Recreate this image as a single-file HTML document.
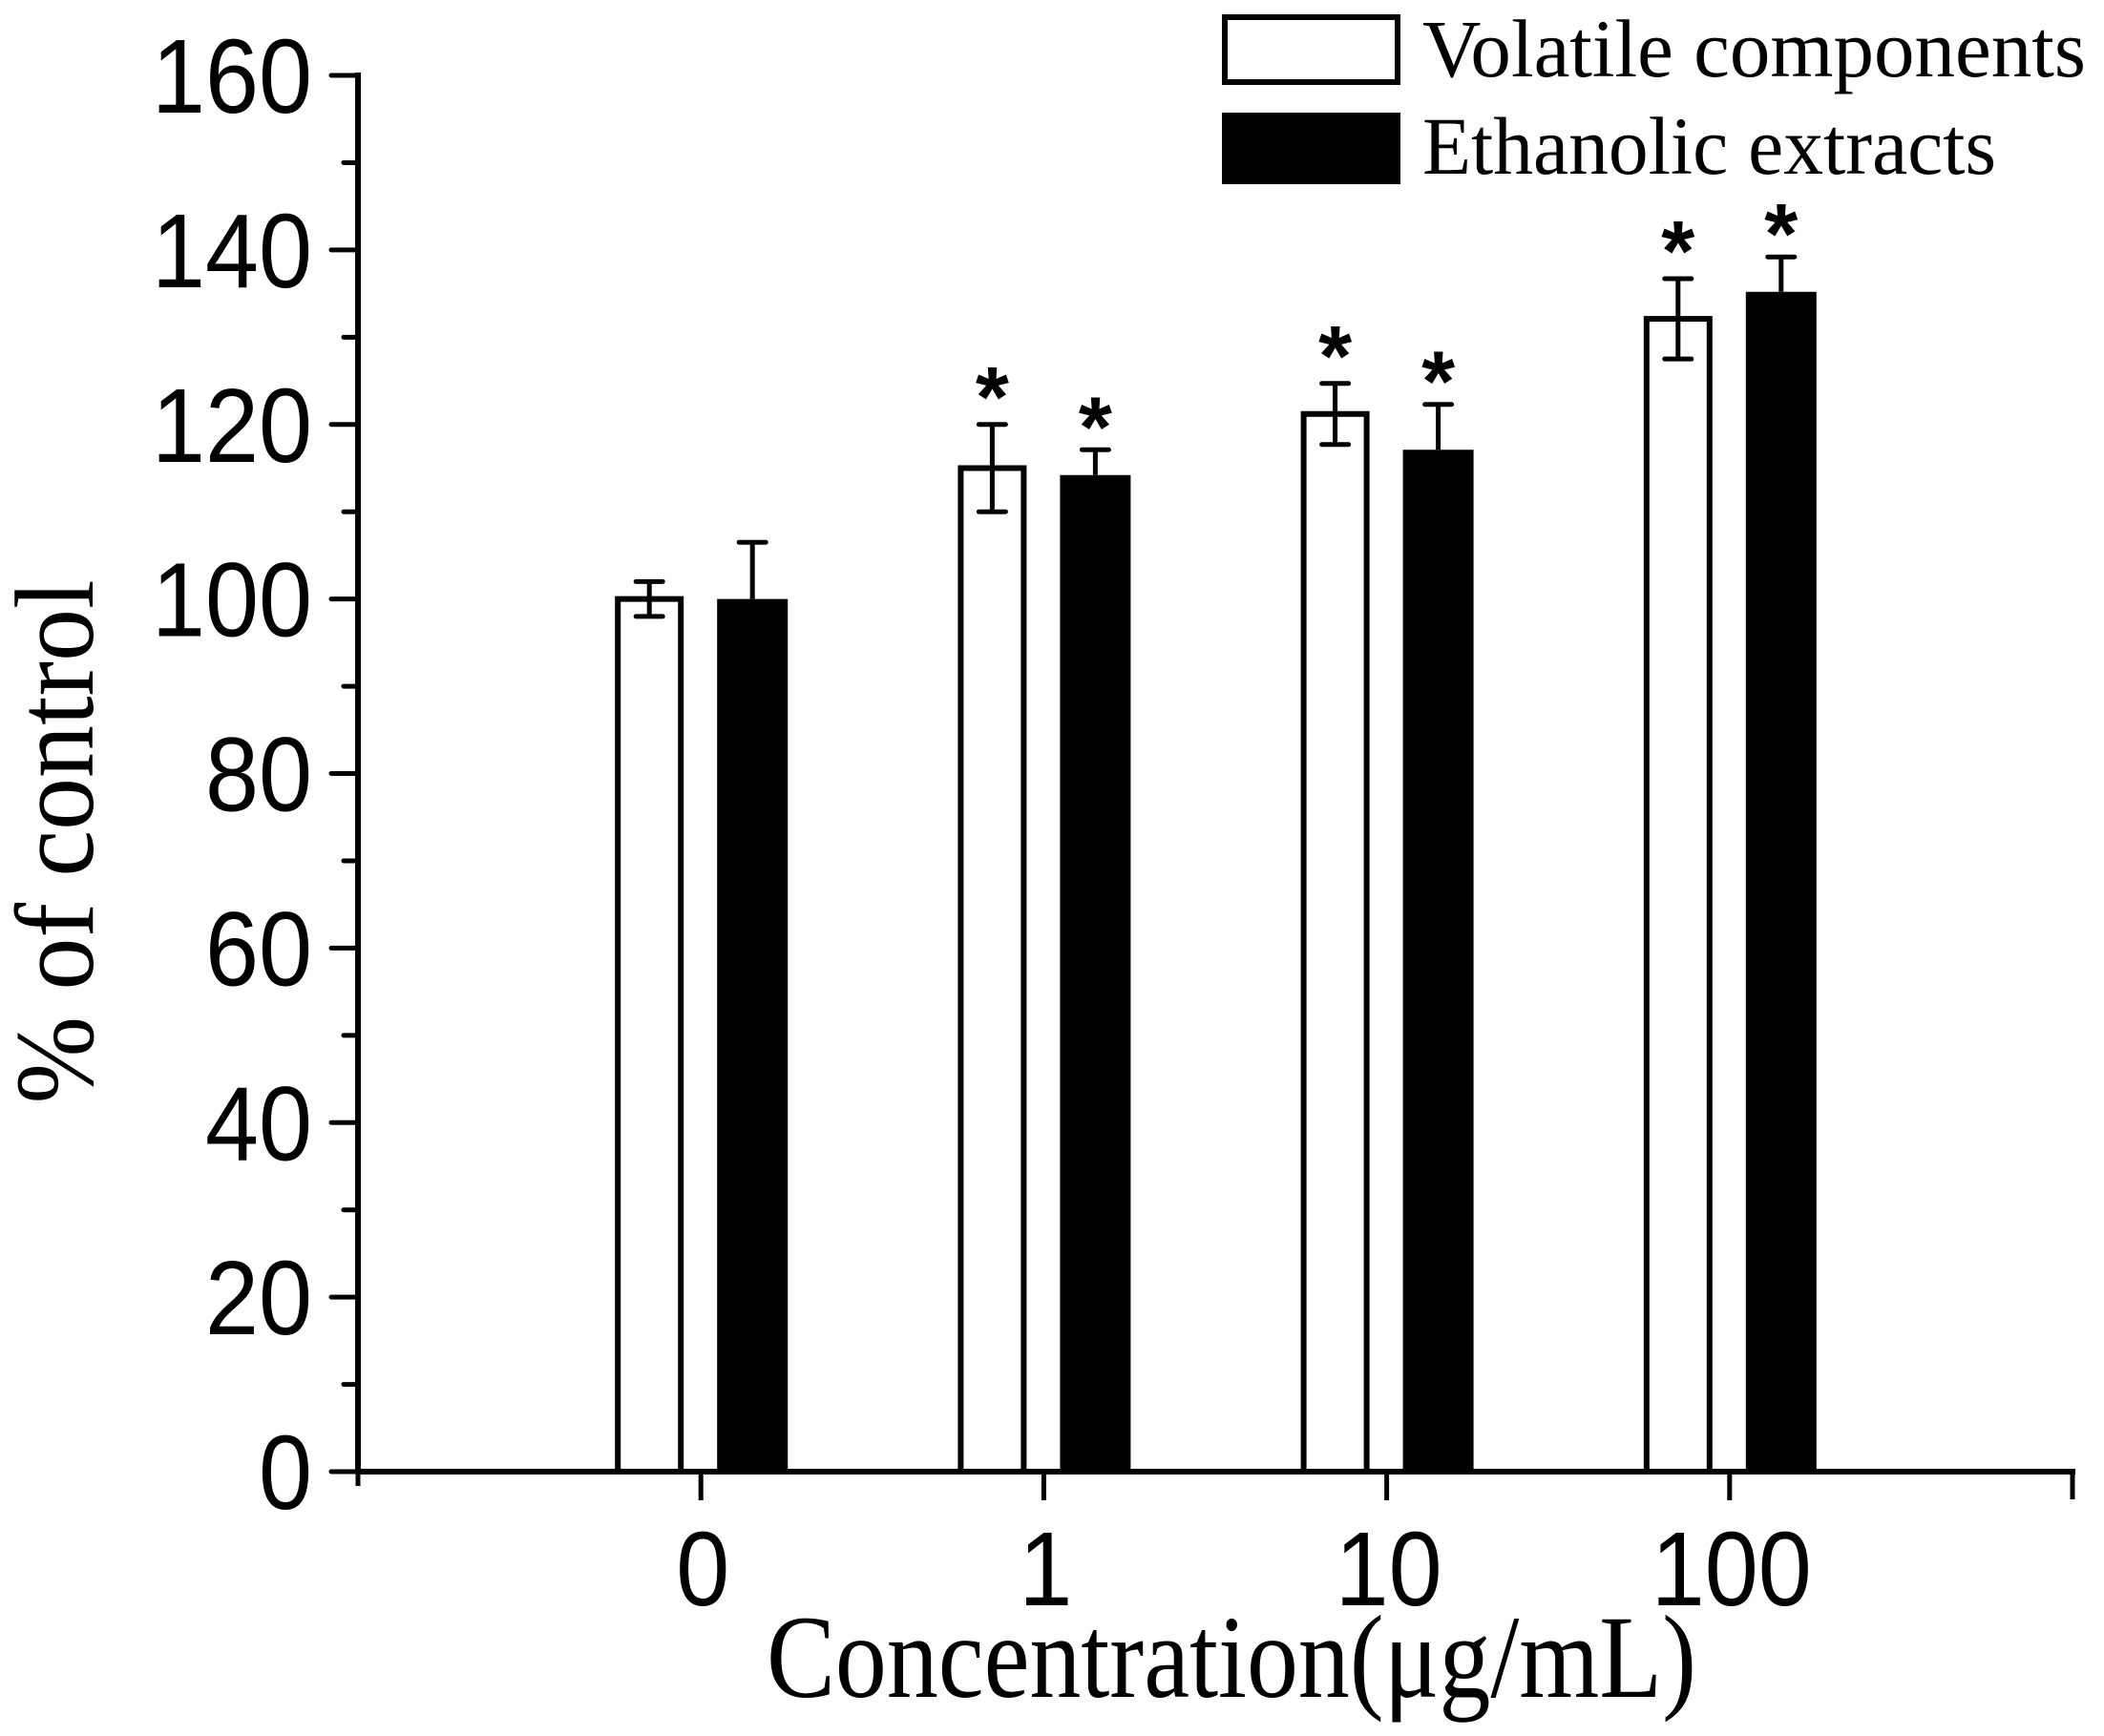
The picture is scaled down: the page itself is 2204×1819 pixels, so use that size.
<!DOCTYPE html>
<html><head><meta charset="utf-8"><style>html,body{margin:0;padding:0;background:#fff}svg{display:block}</style></head>
<body>
<svg id="chart" width="2204" height="1819" viewBox="0 0 2204 1819" xmlns="http://www.w3.org/2000/svg">
<rect x="0" y="0" width="2204" height="1819" fill="#fff"/>
<g id="axes"></g>
<g id="bars"></g>
<text transform="translate(97,882) rotate(-90)" text-anchor="middle" font-family="Liberation Serif, serif" font-size="118" textLength="549" lengthAdjust="spacingAndGlyphs">% of control</text>
<text x="803" y="1778" font-family="Liberation Serif, serif" font-size="124" textLength="974" lengthAdjust="spacingAndGlyphs">Concentration(μg/mL)</text>
<g>
<rect x="1283" y="18" width="181" height="68" fill="#fff" stroke="#000" stroke-width="6"/>
<text x="1490" y="80" font-family="Liberation Serif, serif" font-size="86" textLength="695" lengthAdjust="spacingAndGlyphs">Volatile components</text>
<rect x="1280" y="118" width="187" height="75" fill="#000"/>
<text x="1490" y="182" font-family="Liberation Serif, serif" font-size="86" textLength="601" lengthAdjust="spacingAndGlyphs">Ethanolic extracts</text>
</g>
<script>
const categories = ["0", "1", "10", "100"];
const volatileValues = [100, 115, 121.2, 132.1];
const volatileErrors = [2, 5, 3.5, 4.6];
const ethanolicValues = [100, 114.2, 117.1, 135.2];
const ethanolicErrors = [6.5, 2.9, 5.2, 4.0];
const volatileSig = [false, true, true, true];
const ethanolicSig = [false, true, true, true];
const yTicks = [0, 20, 40, 60, 80, 100, 120, 140, 160];

const NS = "http://www.w3.org/2000/svg";
const X0 = 375, X1 = 2171, Y0 = 1542, YTOP = 79;
function yScale(v){ return Y0 - (v / 160) * (Y0 - YTOP); }
function xScale(i){ return X0 + (i + 1) * (X1 - X0) / 5; }
function mk(tag, attrs, parent){ const e = document.createElementNS(NS, tag); for (const k in attrs) e.setAttribute(k, attrs[k]); parent.appendChild(e); return e; }

const axes = document.getElementById("axes");
const bars = document.getElementById("bars");

const yAxis = mk("line", {x1: X0, y1: YTOP, x2: X0, y2: Y0, stroke: "#000", "stroke-width": 6, "stroke-linecap": "square"}, axes);


const xAxis = mk("line", {x1: X0, y1: Y0, x2: X1, y2: Y0, stroke: "#000", "stroke-width": 6, "stroke-linecap": "square"}, axes);



for (let v = 10; v < 160; v += 20) {
  const t = mk("line", {x1: X0 - 15, y1: yScale(v), x2: X0, y2: yScale(v), stroke: "#000", "stroke-width": 5, "stroke-linecap": "round"}, axes);
  
  
}
yTicks.forEach(v => {
  const y = yScale(v);
  const t = mk("line", {x1: X0 - 28, y1: y, x2: X0, y2: y, stroke: "#000", "stroke-width": 5, "stroke-linecap": "round"}, axes);
  
  
  const s = String(v);
  const lb = mk("text", {x: 327, y: y + 39, "text-anchor": "end", "font-family": "Liberation Sans, Arial, sans-serif", "font-size": 110, textLength: s.length * 56, lengthAdjust: "spacingAndGlyphs"}, axes);
  lb.textContent = s;
  
  
});

const t0 = mk("line", {x1: X0, y1: Y0, x2: X0, y2: Y0 + 15, stroke: "#000", "stroke-width": 5}, axes);


const t5 = mk("line", {x1: X1, y1: Y0, x2: X1, y2: Y0 + 29, stroke: "#000", "stroke-width": 5}, axes);



const BW = 72, OFF = 54;
function drawErr(cx, v, e, upperOnly){
  const yt = yScale(v + e), yb = upperOnly ? yScale(v) : yScale(v - e);
  const g = mk("g", {}, bars);
  
  
  mk("line", {x1: cx, y1: yt, x2: cx, y2: yb, stroke: "#000", "stroke-width": 5}, g);
  mk("line", {x1: cx - 14, y1: yt, x2: cx + 14, y2: yt, stroke: "#000", "stroke-width": 5, "stroke-linecap": "round"}, g);
  if (!upperOnly) mk("line", {x1: cx - 14, y1: yb, x2: cx + 14, y2: yb, stroke: "#000", "stroke-width": 5, "stroke-linecap": "round"}, g);
  return yt;
}
function drawStar(cx, yBottom){
  const fs = 90;
  const s = mk("text", {x: cx, y: yBottom + 0.3 * fs, "text-anchor": "middle", "font-family": "Liberation Sans, Arial, sans-serif", "font-weight": "bold", "font-size": fs}, bars);
  s.textContent = "*";
  
  
}

categories.forEach((c, i) => {
  const cx = xScale(i);
  const tk = mk("line", {x1: cx, y1: Y0, x2: cx, y2: Y0 + 30, stroke: "#000", "stroke-width": 5}, axes);
  
  
  const lb = mk("text", {x: cx + 2, y: 1682, "text-anchor": "middle", "font-family": "Liberation Sans, Arial, sans-serif", "font-size": 110, textLength: c.length * 56, lengthAdjust: "spacingAndGlyphs"}, axes);
  lb.textContent = c;
  
  

  const wx = cx - OFF, wy = yScale(volatileValues[i]);
  const wb = mk("rect", {x: wx - BW/2 + 3, y: wy, width: BW - 6, height: Y0 - wy, fill: "#fff", stroke: "#000", "stroke-width": 6}, bars);
  
  
  const wt = drawErr(wx, volatileValues[i], volatileErrors[i], false);
  if (volatileSig[i]) drawStar(wx, wt - 25);

  const bx = cx + OFF, by = yScale(ethanolicValues[i]);
  const bb = mk("rect", {x: bx - BW/2 - 1, y: by, width: BW + 2, height: Y0 - by, fill: "#000"}, bars);
  
  
  const bt = drawErr(bx, ethanolicValues[i], ethanolicErrors[i], true);
  if (ethanolicSig[i]) drawStar(bx, bt - 20);
});
</script>
</svg>
</body></html>
